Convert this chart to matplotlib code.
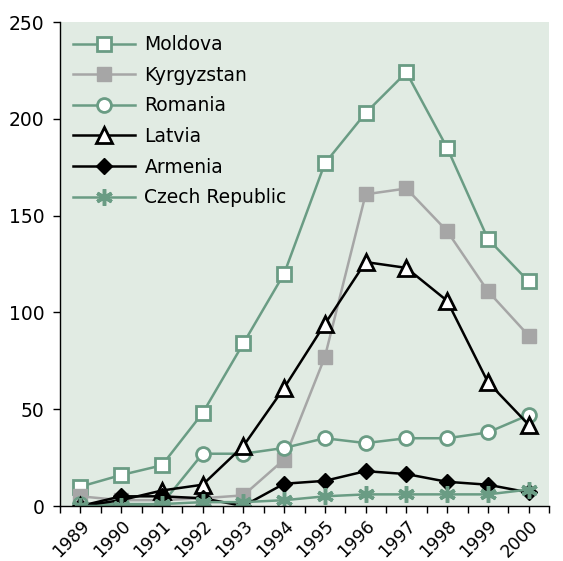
import matplotlib.pyplot as plt
import numpy as np

years = ["1989", "1990", "1991", "1992", "1993", "1994",
         "1995", "1996", "1997", "1998", "1999", "2000"]

moldova = [10, 16, 21, 48, 84, 120, 177, 203, 224, 185, 138, 116]
kyrgyzstan = [5, 3, 3, 4, 5.5, 24, 77, 161, 164, 142, 111, 88]
romania = [1, 1, 1, 27, 27, 30, 35, 32.5, 35, 35, 38, 47]
latvia = [0, 3, 8, 11, 31, 61, 94, 126, 123, 106, 64, 42]
armenia = [0, 5, 5, 4, 0, 11.5, 13, 18, 16.5, 12.5, 11, 7]
czech = [0, 0, 1, 2, 2, 3, 5, 6, 6, 6, 6, 8.5]

green = "#6A9C84"
grey = "#A6A6A6"

fig = plt.figure(figsize=(5.63, 5.61), dpi=100)
ax = fig.add_axes([60 / 563, 1 - 506 / 561, 489 / 563, 484 / 561])
ax.set_facecolor("#E1EBE3")

x = np.arange(len(years))
lw = 1.8
ax.plot(x, moldova, color=green, lw=lw, marker="s", ms=10,
        mfc="white", mec=green, mew=2, label="Moldova")
ax.plot(x, kyrgyzstan, color=grey, lw=lw, marker="s", ms=10,
        mfc=grey, mec=grey, label="Kyrgyzstan")
ax.plot(x, romania, color=green, lw=lw, marker="o", ms=10,
        mfc="white", mec=green, mew=2, label="Romania")
ax.plot(x, latvia, color="black", lw=lw, marker="^", ms=12,
        mfc="white", mec="black", mew=2, label="Latvia")
ax.plot(x, armenia, color="black", lw=lw, marker="D", ms=8,
        mfc="black", mec="black", label="Armenia")
ax.plot(x, czech, color=green, lw=lw, marker=(6, 2, 0), ms=12,
        mec=green, mew=2.5, label="Czech Republic")

ax.set_xlim(-0.5, len(years) - 0.5)
ax.set_ylim(0, 250)
ax.set_yticks(range(0, 251, 50))
ax.set_xticks(x)
ax.set_xticklabels(years, rotation=45, ha="right", rotation_mode="anchor")
ax.set_xticks(np.arange(-0.5, len(years), 1), minor=True)
ax.tick_params(axis="both", which="both", direction="out", length=5,
               width=1, labelsize=13.5, color="black")
ax.tick_params(axis="x", pad=3, labelsize=12.5)
ax.tick_params(axis="y", pad=6)

for side in ["top", "right"]:
    ax.spines[side].set_visible(False)
for side in ["left", "bottom"]:
    ax.spines[side].set_color("black")
    ax.spines[side].set_linewidth(1)

leg = ax.legend(loc="upper left", frameon=False, fontsize=13.5,
                handlelength=3.3, handletextpad=0.5, labelspacing=0.62,
                bbox_to_anchor=(0.0, 1.0), borderaxespad=0.3)

fig.savefig("out.png", dpi=100)
